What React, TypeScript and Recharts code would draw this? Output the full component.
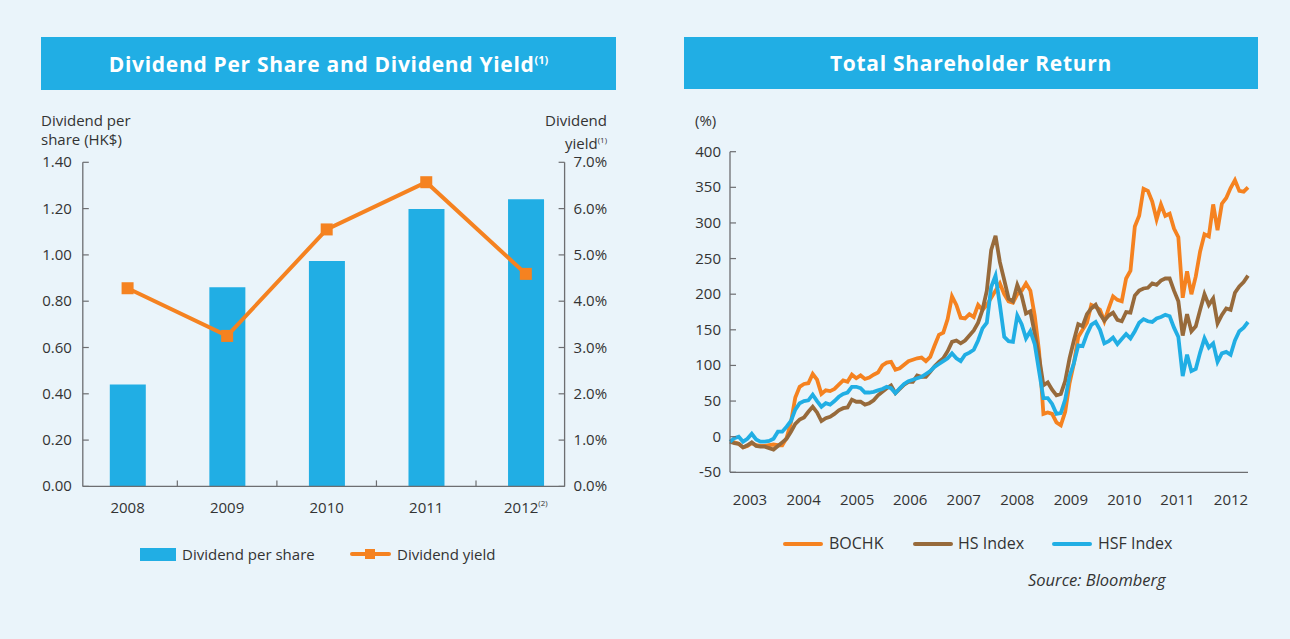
import React from "react";
import { ComposedChart, LineChart, Bar, Line, XAxis, YAxis } from "recharts";

// left panel: dividend per share (bars) and dividend yield (line)
const years = ["2008", "2009", "2010", "2011", "2012"];
const dividendPerShare = [0.44, 0.86, 0.974, 1.198, 1.24];
const dividendYield = [4.28, 3.25, 5.55, 6.57, 4.59];
const dpsTicks = [0, 0.2, 0.4, 0.6, 0.8, 1.0, 1.2, 1.4];
const yieldTicks = [0, 1, 2, 3, 4, 5, 6, 7];

// right panel: total shareholder return (%), monthly
const tsrYears = ["2003", "2004", "2005", "2006", "2007", "2008", "2009", "2010", "2011", "2012"];
const tsrYearPos = [4.6, 16.9, 29.2, 41.4, 53.7, 66.0, 78.3, 90.6, 102.8, 115.1];
const tsrTicks = [-50, 0, 50, 100, 150, 200, 250, 300, 350, 400];

const bochk = [
  -7, -8, -10, -15, -13, -9, -12, -13, -13, -12, -11, -12, -12, -2, 20, 55, 70, 74, 75, 88, 80, 60, 65, 64, 67, 73, 79, 77, 87, 82,
  86, 81, 83, 87, 90, 100, 104, 105, 94, 96, 101, 106, 108, 110, 111, 106, 112, 128, 143, 146, 165, 197, 185, 167, 166, 172, 168, 185, 178, 185,
  195, 205, 215, 200, 190, 188, 200, 205, 215, 205, 170, 120, 32, 34, 32, 20, 16, 35, 75, 103, 140, 150, 160, 185, 182, 178, 162, 180, 197, 192,
  190, 222, 233, 295, 310, 348, 345, 330, 305, 326, 310, 313, 292, 280, 195, 232, 200, 225, 260, 284, 281, 326, 290, 327, 335, 349, 360, 345, 344, 350,
];
const hsIndex = [
  -7, -9, -10, -15, -12, -8, -13, -14, -14, -16, -18, -13, -8, -3, 7, 18, 24, 27, 35, 42, 34, 22, 26, 28, 32, 37, 40, 41, 52, 49,
  49, 45, 47, 51, 58, 63, 68, 72, 61, 67, 73, 77, 77, 86, 84, 84, 91, 99, 105, 110, 120, 133, 135, 131, 135, 142, 149, 160, 178, 205,
  262, 282, 245, 220, 194, 190, 213, 198, 173, 176, 145, 112, 72, 76, 66, 58, 60, 78, 110, 135, 158, 155, 172, 180, 185, 172, 163, 170, 174, 164,
  162, 175, 174, 198, 205, 208, 209, 215, 213, 219, 222, 222, 205, 190, 142, 172, 148, 155, 178, 200, 185, 194, 159, 171, 180, 178, 202, 211, 217, 226,
];
const hsfIndex = [
  -7, -2, 0, -7, -3, 4, -4, -7, -7, -6, -3, 7, 7, 14, 22, 38, 47, 50, 51, 59, 50, 42, 47, 45, 50, 56, 60, 62, 70, 70,
  68, 62, 62, 63, 65, 67, 70, 68, 61, 68, 74, 78, 80, 82, 84, 88, 92, 98, 102, 106, 110, 117, 110, 106, 115, 118, 122, 135, 152, 160,
  210, 226, 185, 140, 134, 133, 170, 158, 138, 148, 130, 92, 54, 54, 46, 32, 33, 52, 85, 103, 128, 127, 144, 157, 161, 150, 131, 134, 139, 130,
  137, 144, 138, 148, 160, 165, 162, 161, 166, 168, 171, 169, 153, 140, 85, 115, 92, 95, 118, 138, 125, 131, 105, 117, 119, 115, 135, 148, 153, 161,
];

const BLUE = "#21AEE4";
const ORANGE = "#F58220";
const BROWN = "#976A3B";
const TEXT = "#333333";
const AXIS = "#6d6e71";
const BG = "#EAF4FA";
const FONT = "'Open Sans', 'Noto Sans', sans-serif";

const divData = years.map((y, i) => ({ year: y, dps: dividendPerShare[i], yld: dividendYield[i] }));
const tsrData = bochk.map((v, i) => ({ m: i, bochk: v, hs: hsIndex[i], hsf: hsfIndex[i] }));

const LeftTick = (p: any) => {
  const ax = p.x + 11;
  return (
    <g>
      <line x1={ax} x2={ax + 6} y1={p.y} y2={p.y} stroke={AXIS} strokeWidth={1.2} />
      <text x={p.x} y={p.y} dy={5} textAnchor="end" fontSize={15} fill={TEXT} fontFamily={FONT}>
        {p.payload.value.toFixed(2)}
      </text>
    </g>
  );
};

const RightTick = (p: any) => {
  const ax = p.x - 9;
  return (
    <g>
      <line x1={ax} x2={ax - 6} y1={p.y} y2={p.y} stroke={AXIS} strokeWidth={1.2} />
      <text x={p.x} y={p.y} dy={5} textAnchor="start" fontSize={15} fill={TEXT} fontFamily={FONT}>
        {p.payload.value.toFixed(1) + "%"}
      </text>
    </g>
  );
};

const YearTick = (p: any) => {
  const last = p.index === years.length - 1;
  return (
    <g>
      {!last && <line x1={p.x + 49.75} x2={p.x + 49.75} y1={p.y} y2={p.y - 6} stroke={AXIS} strokeWidth={1.2} />}
      <text x={p.x} y={p.y} dy={27} textAnchor="middle" fontSize={15} fill={TEXT} fontFamily={FONT}>
        <tspan>{p.payload.value}</tspan>
        {last && <tspan fontSize={8} dy={-7}>(2)</tspan>}
      </text>
    </g>
  );
};

const TsrYTick = (p: any) => {
  const ax = p.x + 9;
  return (
    <g>
      <line x1={ax} x2={ax + 6} y1={p.y} y2={p.y} stroke={AXIS} strokeWidth={1.2} />
      <text x={p.x} y={p.y} dy={5} textAnchor="end" fontSize={15} fill={TEXT} fontFamily={FONT}>
        {p.payload.value}
      </text>
    </g>
  );
};

const TsrXTick = (p: any) => (
  <text x={p.x} y={p.y} dy={33} textAnchor="middle" fontSize={15} fill={TEXT} fontFamily={FONT}>
    {tsrYears[p.index]}
  </text>
);

const SquareDot = (p: any) => <rect x={p.cx - 6} y={p.cy - 6} width={12} height={12} fill={ORANGE} />;

const abs = (left: number, top: number, extra: any = {}) => ({ position: "absolute" as const, left, top, ...extra });
const label = { fontSize: 15, color: TEXT, fontFamily: FONT, lineHeight: "19px", whiteSpace: "nowrap" as const };
const titleBar = {
  background: BLUE, color: "#fff", fontFamily: FONT, fontWeight: 700, fontSize: 21,
  display: "flex", alignItems: "center", justifyContent: "center", letterSpacing: 0.7,
};

export default function App() {
  return (
    <div style={{ position: "fixed", left: 0, top: 0, width: 1290, height: 639, background: BG, overflow: "hidden" }}>
      {/* left panel */}
      <div style={abs(41, 37, { ...titleBar, width: 575, height: 53 })}>
        <span>
          Dividend Per Share and Dividend Yield<sup style={{ fontSize: 11, letterSpacing: 0 }}>(1)</sup>
        </span>
      </div>
      <div style={abs(41, 111, label)}>Dividend per<br />share (HK$)</div>
      <div style={abs(487, 111, { ...label, width: 120, textAlign: "right" })}>
        Dividend<br />yield<sup style={{ fontSize: 8 }}>(1)</sup>
      </div>
      <div style={abs(30, 150)}>
        <ComposedChart width={600} height={380} data={divData} margin={{ top: 12.3, right: 0, bottom: 0, left: 0 }}>
          <XAxis
            dataKey="year" height={43.6} interval={0} tickSize={0} tickMargin={0} tickLine={false}
            axisLine={{ stroke: AXIS, strokeWidth: 1.3 }} tick={YearTick} padding={{ left: -5, right: -11 }}
          />
          <YAxis
            yAxisId="l" width={52.8} domain={[0, 1.4]} ticks={dpsTicks} interval={0} tickSize={0} tickMargin={11}
            tickLine={false} axisLine={{ stroke: AXIS, strokeWidth: 1.3 }} tick={LeftTick}
          />
          <YAxis
            yAxisId="r" orientation="right" width={65.4} domain={[0, 7]} ticks={yieldTicks} interval={0} tickSize={0}
            tickMargin={9} tickLine={false} axisLine={{ stroke: AXIS, strokeWidth: 1.3 }} tick={RightTick}
          />
          <Bar yAxisId="l" dataKey="dps" fill={BLUE} barSize={36} isAnimationActive={false} />
          <Line
            yAxisId="r" dataKey="yld" type="linear" stroke={ORANGE} strokeWidth={4} dot={SquareDot}
            activeDot={false} isAnimationActive={false}
          />
        </ComposedChart>
      </div>
      <div style={abs(140, 548, { width: 36, height: 13, background: BLUE })} />
      <div style={abs(182, 545, label)}>Dividend per share</div>
      <div style={abs(350, 552, { width: 41, height: 4, borderRadius: 2, background: ORANGE })} />
      <div style={abs(365, 549, { width: 10, height: 10, background: ORANGE })} />
      <div style={abs(397, 545, label)}>Dividend yield</div>

      {/* right panel */}
      <div style={abs(684, 37, { ...titleBar, width: 574, height: 52 })}>Total Shareholder Return</div>
      <div style={abs(695, 111, label)}>(%)</div>
      <div style={abs(680, 140)}>
        <LineChart width={580} height={380} data={tsrData} margin={{ top: 11.7, right: 12, bottom: 0, left: 0 }}>
          <XAxis
            dataKey="m" type="number" domain={[0, 119]} ticks={tsrYearPos} interval={0} height={47.7} tickSize={0}
            tickMargin={0} tickLine={false} axisLine={{ stroke: AXIS, strokeWidth: 1.3 }} tick={TsrXTick}
          />
          <YAxis
            width={50} domain={[-50, 400]} ticks={tsrTicks} interval={0} tickSize={0} tickMargin={9} tickLine={false}
            axisLine={{ stroke: AXIS, strokeWidth: 1.3 }} tick={TsrYTick}
          />
          <Line dataKey="bochk" type="linear" stroke={ORANGE} strokeWidth={3.8} dot={false} activeDot={false} isAnimationActive={false} />
          <Line dataKey="hs" type="linear" stroke={BROWN} strokeWidth={3.8} dot={false} activeDot={false} isAnimationActive={false} />
          <Line dataKey="hsf" type="linear" stroke={BLUE} strokeWidth={3.8} dot={false} activeDot={false} isAnimationActive={false} />
        </LineChart>
      </div>
      <div style={abs(783, 542, { width: 40, height: 4, borderRadius: 2, background: ORANGE })} />
      <div style={abs(829, 534, { ...label, fontSize: 16 })}>BOCHK</div>
      <div style={abs(913, 542, { width: 40, height: 4, borderRadius: 2, background: BROWN })} />
      <div style={abs(958, 534, { ...label, fontSize: 16 })}>HS Index</div>
      <div style={abs(1052, 542, { width: 40, height: 4, borderRadius: 2, background: BLUE })} />
      <div style={abs(1098, 534, { ...label, fontSize: 16 })}>HSF Index</div>
      <div style={abs(1028, 570, { ...label, fontSize: 16.5, fontStyle: "italic" })}>Source: Bloomberg</div>
    </div>
  );
}
